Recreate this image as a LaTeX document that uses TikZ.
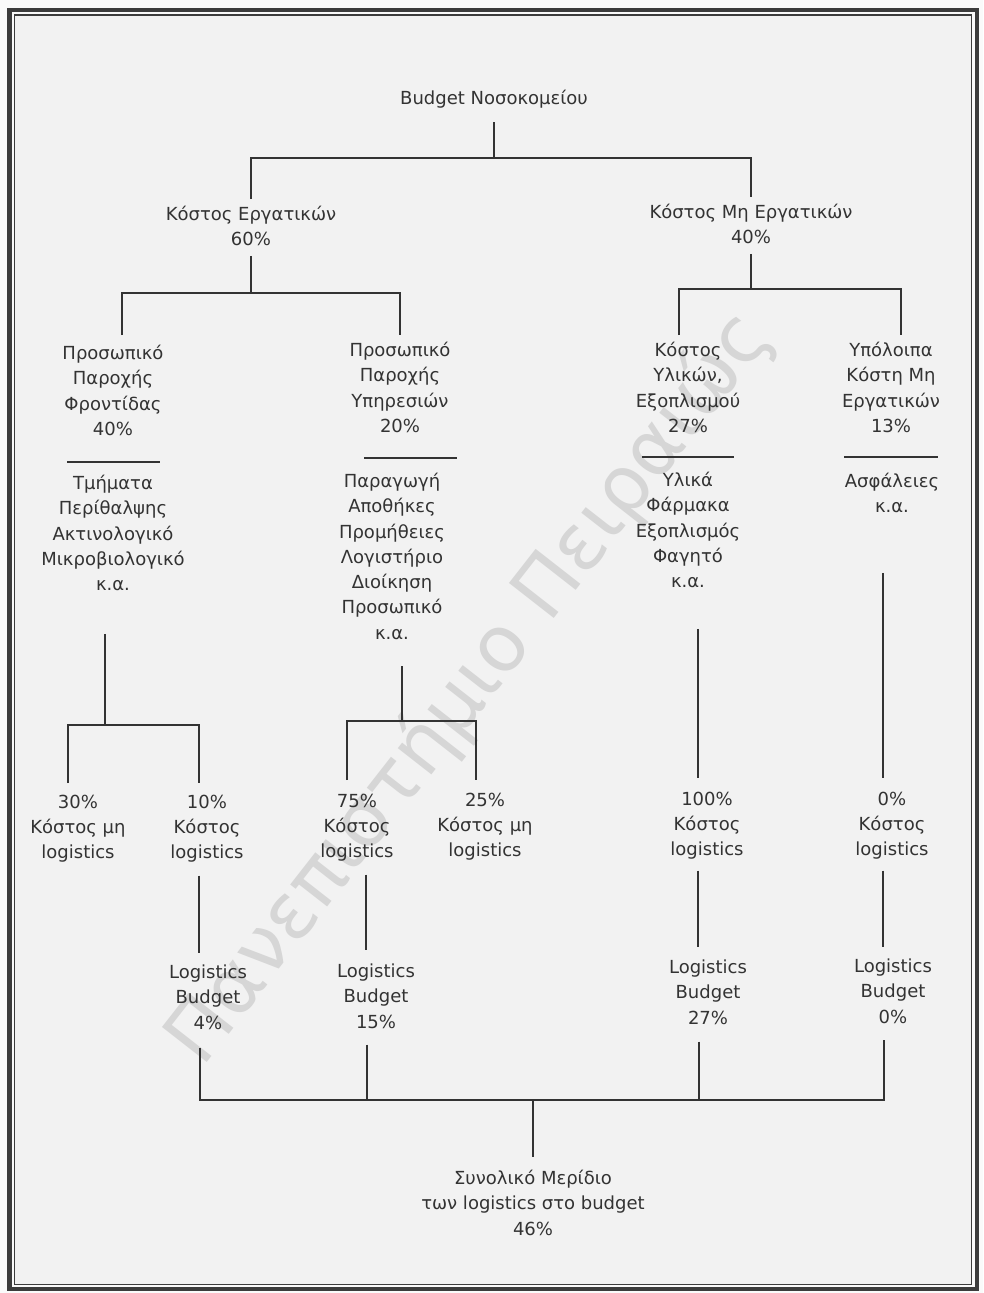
\documentclass[tikz,border=0pt]{standalone}
\usepackage{fontspec}
\setmainfont{DejaVu Sans}
\definecolor{ink}{HTML}{333333}
\definecolor{paper}{HTML}{F2F2F2}
\definecolor{margin}{HTML}{FAFAFA}
\definecolor{framec}{HTML}{3C3C3C}
\definecolor{wmgray}{HTML}{D6D6D6}
\newcommand\lblfont{\fontsize{18}{25.3}\selectfont}
\tikzset{
  lbl/.style={align=center, inner sep=0pt, outer sep=0pt, anchor=north, font=\lblfont, text=ink},
  conn/.style={draw=ink, line width=1.3pt},
  sepline/.style={draw=ink, line width=1.3pt},
  wm/.style={rotate=52, inner sep=0pt, font=\fontsize{78}{80}\selectfont, text=wmgray},
}
\begin{document}
\begin{tikzpicture}[x=1pt, y=-1pt]
  \useasboundingbox (0,0) rectangle (983,1293);
  % page and double frame
  \fill[margin] (0,0) rectangle (983,1293);
  \fill[paper] (14.2,15) rectangle (971.5,1284.5);
  \draw[framec, line width=4.5pt] (9.3,10) rectangle (977,1289);
  \draw[framec, line width=1.3pt] (14.2,15) rectangle (971.5,1284.5);

  % watermark
  \node[wm] (mark) at (470,688) {Πανεπιστήμιο Πειραιώς};

  % level 0 and 1
  \node[lbl] (root) at (494,90) {Budget Νοσοκομείου};
  \node[lbl] (kl) at (251,206) {Κόστος Εργατικών\\60\%};
  \node[lbl] (kn) at (751,204) {Κόστος Μη Εργατικών\\40\%};

  % level 2 headers
  \node[lbl] (pl) at (113,345) {Προσωπικό\\Παροχής\\Φροντίδας\\40\%};
  \node[lbl] (ps) at (400,342) {Προσωπικό\\Παροχής\\Υπηρεσιών\\20\%};
  \node[lbl] (ku) at (688,342) {Κόστος\\Υλικών,\\Εξοπλισμού\\27\%};
  \node[lbl] (ky) at (891,342) {Υπόλοιπα\\Κόστη Μη\\Εργατικών\\13\%};

  % level 2 details
  \node[lbl] (pld) at (113,475) {Τμήματα\\Περίθαλψης\\Ακτινολογικό\\Μικροβιολογικό\\κ.α.};
  \node[lbl] (psd) at (392,473) {Παραγωγή\\Αποθήκες\\Προμήθειες\\Λογιστήριο\\Διοίκηση\\Προσωπικό\\κ.α.};
  \node[lbl] (kud) at (688,472) {Υλικά\\Φάρμακα\\Εξοπλισμός\\Φαγητό\\κ.α.};
  \node[lbl] (kyd) at (892,473) {Ασφάλειες\\κ.α.};

  % separators between headers and details
  \draw[sepline] (67,462) -- (160,462);
  \draw[sepline] (364,458) -- (457,458);
  \draw[sepline] (642,457) -- (734,457);
  \draw[sepline] (844,457) -- (938,457);

  % level 3 shares
  \node[lbl] (l30) at (78,795) {30\%\\Κόστος μη\\logistics};
  \node[lbl] (l10) at (207,795) {10\%\\Κόστος\\logistics};
  \node[lbl] (l75) at (357,794) {75\%\\Κόστος\\logistics};
  \node[lbl] (l25) at (485,793) {25\%\\Κόστος μη\\logistics};
  \node[lbl] (l100) at (707,792) {100\%\\Κόστος\\logistics};
  \node[lbl] (l0) at (892,792) {0\%\\Κόστος\\logistics};

  % logistics budgets
  \node[lbl] (lb1) at (208,965) {Logistics\\Budget\\4\%};
  \node[lbl] (lb2) at (376,964) {Logistics\\Budget\\15\%};
  \node[lbl] (lb3) at (708,960) {Logistics\\Budget\\27\%};
  \node[lbl] (lb4) at (893,959) {Logistics\\Budget\\0\%};

  % total
  \node[lbl] (tot) at (533,1170) {Συνολικό Μερίδιο\\των logistics στο budget\\46\%};

  % junction points
  \coordinate (j0) at (494,158);
  \coordinate (j1) at (251,293);
  \coordinate (j2) at (751,289);
  \coordinate (j3) at (105,725);
  \coordinate (j4) at (402,721);
  \coordinate (j5) at (533,1100);

  % connectors
  \draw[conn, shorten <=14pt] (root.south) -- (j0);
  \draw[conn, shorten <=7pt, shorten >=7pt] (kl.north) |- (j0) -| (kn.north);

  \draw[conn, shorten <=10pt] (kl.south) -- (j1);
  \draw[conn, shorten <=10pt, shorten >=7pt] ([xshift=9pt]pl.north) |- (j1) -| (ps.north);
  \draw[conn, shorten <=10pt] (kn.south) -- (j2);
  \draw[conn, shorten <=7pt, shorten >=7pt] ([xshift=-9pt]ku.north) |- (j2) -| ([xshift=10pt]ky.north);

  \draw[conn, shorten <=43pt] ([xshift=-8pt]pld.south) -- (j3);
  \draw[conn, shorten <=12pt, shorten >=12pt] ([xshift=-10pt]l30.north) |- (j3) -| ([xshift=-8pt]l10.north);
  \draw[conn, shorten <=27pt] ([xshift=10pt]psd.south) -- (j4);
  \draw[conn, shorten <=14pt, shorten >=13pt] ([xshift=-10pt]l75.north) |- (j4) -| ([xshift=-9pt]l25.north);
  \draw[conn, shorten <=41pt, shorten >=14pt] ([xshift=10pt]kud.south) -- ([xshift=-9pt]l100.north);
  \draw[conn, shorten <=60pt, shorten >=14pt] ([xshift=-9pt]kyd.south) -- ([xshift=-9pt]l0.north);

  \draw[conn, shorten <=13pt, shorten >=12pt] ([xshift=-8pt]l10.south) -- ([xshift=-9pt]lb1.north);
  \draw[conn, shorten <=13pt, shorten >=14pt] ([xshift=9pt]l75.south) -- ([xshift=-10pt]lb2.north);
  \draw[conn, shorten <=11pt, shorten >=13pt] ([xshift=-9pt]l100.south) -- ([xshift=-10pt]lb3.north);
  \draw[conn, shorten <=11pt, shorten >=12pt] ([xshift=-9pt]l0.south) -- ([xshift=-10pt]lb4.north);

  \draw[conn, shorten <=18pt, shorten >=16pt] ([xshift=-8pt]lb1.south) |- (j5) -| ([xshift=-9pt]lb4.south);
  \draw[conn, shorten <=16pt] ([xshift=-9pt]lb2.south) -- ([xshift=-9pt]lb2.south |- j5);
  \draw[conn, shorten <=17pt] ([xshift=-9pt]lb3.south) -- ([xshift=-9pt]lb3.south |- j5);
  \draw[conn, shorten >=13pt] (j5) -- (tot.north);
\end{tikzpicture}
\end{document}
